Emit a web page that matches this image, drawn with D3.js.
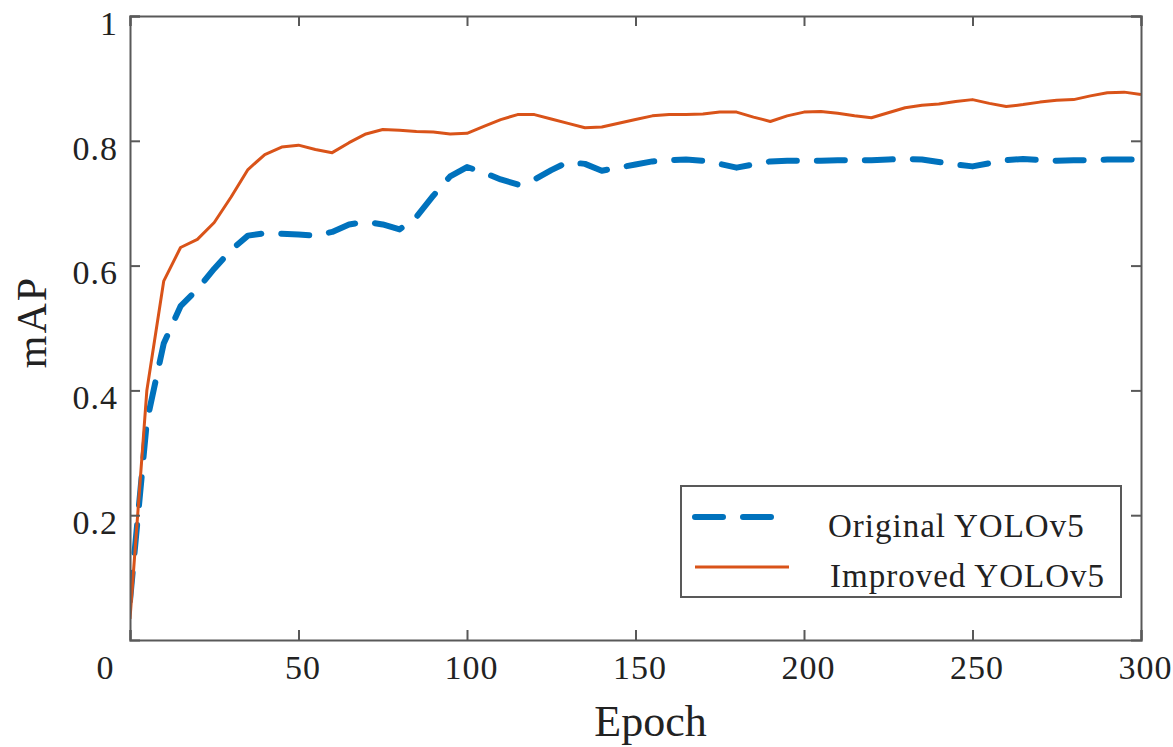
<!DOCTYPE html>
<html>
<head>
<meta charset="utf-8">
<script src="https://cdn.jsdelivr.net/npm/d3@7"></script>
<style>
  body { margin: 0; background: #fff; }
  svg text { font-family: "Liberation Serif", "Times New Roman", serif; fill: #222; }
</style>
</head>
<body>
<div id="chart"></div>
<script>
// epochs sampled every 5
const epochs = [0, 5, 10, 15, 20, 25, 30, 35, 40, 45, 50, 55, 60, 65, 70, 75, 80, 85, 90, 95,
    100, 105, 110, 115, 120, 125, 130, 135, 140, 145, 150, 155, 160, 165, 170, 175, 180, 185, 190, 195,
    200, 205, 210, 215, 220, 225, 230, 235, 240, 245, 250, 255, 260, 265, 270, 275, 280, 285, 290, 295, 300]

const originalMAP = [0.063, 0.35, 0.475, 0.535, 0.562, 0.595, 0.625, 0.648, 0.652, 0.651,
    0.650, 0.648, 0.654, 0.666, 0.670, 0.666, 0.658, 0.678, 0.712, 0.743,
    0.758, 0.749, 0.738, 0.730, 0.738, 0.753, 0.766, 0.763, 0.752, 0.757,
    0.762, 0.767, 0.769, 0.770, 0.768, 0.763, 0.757, 0.762, 0.767, 0.768,
    0.768, 0.768, 0.769, 0.769, 0.769, 0.770, 0.771, 0.770, 0.766, 0.762,
    0.759, 0.764, 0.769, 0.771, 0.769, 0.768, 0.769, 0.769, 0.770, 0.770, 0.770]

const improvedMAP = [0.034, 0.40, 0.575, 0.629, 0.642, 0.669, 0.710, 0.754, 0.778, 0.790,
    0.793, 0.786, 0.781, 0.797, 0.811, 0.818, 0.817, 0.815, 0.814, 0.811,
    0.812, 0.823, 0.834, 0.842, 0.842, 0.835, 0.828, 0.821, 0.822, 0.828,
    0.834, 0.840, 0.842, 0.842, 0.843, 0.846, 0.846, 0.838, 0.831, 0.840,
    0.846, 0.847, 0.844, 0.840, 0.837, 0.845, 0.853, 0.857, 0.859, 0.863,
    0.866, 0.860, 0.855, 0.858, 0.862, 0.865, 0.866, 0.872, 0.877, 0.878, 0.874]

const xTicks = [0, 50, 100, 150, 200, 250, 300]
const yTicks = [0.2, 0.4, 0.6, 0.8, 1]
const seriesNames = ["Original YOLOv5", "Improved YOLOv5"]

drawChart()

function drawChart() {
    var margin = { top: 16, right: 32, bottom: 107, left: 130 },
        width = 1173 - margin.left - margin.right,
        height = 747 - margin.top - margin.bottom;

    var svg = d3.select("#chart")
        .append("svg")
        .attr("width", 1173)
        .attr("height", 747)
        .append("g")
        .attr("transform", "translate(" + margin.left + "," + margin.top + ")");

    var x = d3.scaleLinear().domain([0, 300]).range([0, width]);
    var y = d3.scaleLinear().domain([0, 1]).range([height, 0]);

    var axisColor = "#595959";

    // clip lines to the box
    svg.append("clipPath").attr("id", "clip")
        .append("rect").attr("width", width).attr("height", height);

    // lines
    var line = d3.line()
        .x(function (d) { return x(d[0]); })
        .y(function (d) { return y(d[1]); });

    svg.append("path")
        .datum(epochs.map(function (e, i) { return [e, originalMAP[i]]; }))
        .attr("clip-path", "url(#clip)")
        .attr("d", line)
        .attr("fill", "none")
        .attr("stroke", "#0072BD")
        .attr("stroke-width", 6)
        .attr("stroke-linecap", "round")
        .attr("stroke-linejoin", "round")
        .attr("stroke-dasharray", "28,20");

    svg.append("path")
        .datum(epochs.map(function (e, i) { return [e, improvedMAP[i]]; }))
        .attr("clip-path", "url(#clip)")
        .attr("d", line)
        .attr("fill", "none")
        .attr("stroke", "#D95319")
        .attr("stroke-width", 3)
        .attr("stroke-linejoin", "round");

    // axes (ticks inward, box on)
    var xAxis = svg.append("g")
        .attr("transform", "translate(0," + height + ")")
        .call(d3.axisBottom(x).tickValues(xTicks).tickSize(-10).tickPadding(15).tickFormat(d3.format("d")));
    var yAxis = svg.append("g")
        .call(d3.axisLeft(y).tickValues(yTicks).tickSize(-10).tickPadding(22).tickFormat(function (d) { return d === 1 ? "1" : d3.format(".1f")(d); }));
    svg.append("g")
        .call(d3.axisTop(x).tickValues(xTicks).tickSize(-10).tickFormat(""));
    svg.append("g")
        .attr("transform", "translate(" + width + ",0)")
        .call(d3.axisRight(y).tickValues(yTicks).tickSize(-10).tickFormat(""));

    svg.selectAll(".domain").attr("stroke", axisColor).attr("stroke-width", 2);
    svg.selectAll(".tick line").attr("stroke", axisColor).attr("stroke-width", 2);

    xAxis.selectAll("text")
        .style("font-family", "Liberation Serif, serif")
        .style("font-size", "34px")
        .style("letter-spacing", "1px")
        .attr("fill", "#1e1e1e")
        .attr("dx", function (d) { return d === 0 ? -25 : 4; });
    yAxis.selectAll("text")
        .style("font-family", "Liberation Serif, serif")
        .style("font-size", "34px")
        .style("letter-spacing", "1px")
        .attr("fill", "#1e1e1e")
        .attr("dy", "0.54em")
        .attr("dx", 10);

    // axis titles
    svg.append("text")
        .attr("x", width / 2 + 15)
        .attr("y", height + 96)
        .attr("text-anchor", "middle")
        .style("font-size", "44px")
        .text("Epoch");

    svg.append("text")
        .attr("transform", "translate(" + (46 - margin.left) + "," + (322 - margin.top) + ") rotate(-90)")
        .attr("text-anchor", "middle")
        .style("font-size", "42px")
        .style("letter-spacing", "2px")
        .text("mAP");

    // legend
    var legend = svg.append("g")
        .attr("transform", "translate(" + (width - 460) + "," + (height - 154) + ")");
    legend.append("rect")
        .attr("width", 440)
        .attr("height", 111)
        .attr("fill", "#fff")
        .attr("stroke", axisColor)
        .attr("stroke-width", 2);

    var styles = [
        { color: "#0072BD", w: 6, dash: "28,20", cap: "round", len: 82 },
        { color: "#D95319", w: 3, dash: null, cap: "butt", len: 94 }
    ];
    seriesNames.forEach(function (name, i) {
        var yy = 31 + i * 50;
        legend.append("line")
            .attr("x1", 14).attr("x2", 14 + styles[i].len)
            .attr("y1", yy).attr("y2", yy)
            .attr("stroke", styles[i].color)
            .attr("stroke-width", styles[i].w)
            .attr("stroke-linecap", styles[i].cap)
            .attr("stroke-dasharray", styles[i].dash);
        legend.append("text")
            .attr("x", 147 + i * 2)
            .attr("y", yy + 20)
            .style("font-size", "33px")
            .style("letter-spacing", "1px")
            .attr("fill", "#1e1e1e")
            .text(name);
    });
}
</script>
</body>
</html>
